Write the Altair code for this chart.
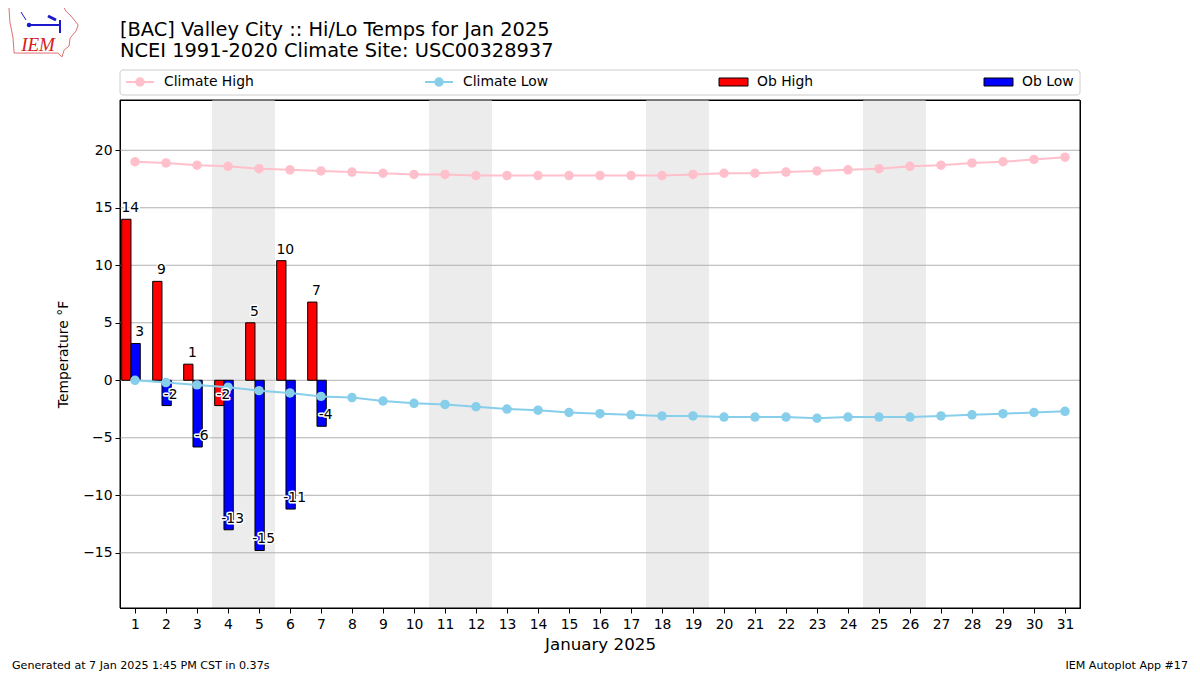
import altair as alt
import pandas as pd

# ---------------- data ----------------
days = list(range(1, 32))
climate_high = [19.0, 18.9, 18.7, 18.6, 18.4, 18.3, 18.2, 18.1, 18.0, 17.9,
                17.9, 17.8, 17.8, 17.8, 17.8, 17.8, 17.8, 17.8, 17.9, 18.0,
                18.0, 18.1, 18.2, 18.3, 18.4, 18.6, 18.7, 18.9, 19.0, 19.2, 19.4]
climate_low = [0.0, -0.2, -0.4, -0.6, -0.9, -1.1, -1.4, -1.5, -1.8, -2.0,
               -2.1, -2.3, -2.5, -2.6, -2.8, -2.9, -3.0, -3.1, -3.1, -3.2,
               -3.2, -3.2, -3.3, -3.2, -3.2, -3.2, -3.1, -3.0, -2.9, -2.8, -2.7]
ob_days = [1, 2, 3, 4, 5, 6, 7]
ob_high = [14.0, 8.6, 1.4, -2.2, 5.0, 10.4, 6.8]
ob_low = [3.2, -2.2, -5.8, -13.0, -14.8, -11.2, -4.0]
weekend_days = [4, 5, 11, 12, 18, 19, 25, 26]
y_ticks = [-15, -10, -5, 0, 5, 10, 15, 20]
series_names = ["Climate High", "Climate Low", "Ob High", "Ob Low"]
title_lines = ["[BAC] Valley City :: Hi/Lo Temps for Jan 2025",
               "NCEI 1991-2020 Climate Site: USC00328937"]
footer_left = "Generated at 7 Jan 2025 1:45 PM CST in 0.37s"
footer_right = "IEM Autoplot App #17"

clim_df = pd.DataFrame({"day": days, "high": climate_high, "low": climate_low})
ob_df = pd.DataFrame({"day": ob_days, "high": ob_high, "low": ob_low})
wk_df = pd.DataFrame({"day": weekend_days})
grid_df = pd.DataFrame({"y": y_ticks})
one = pd.DataFrame({"k": [0]})

FONT = "DejaVu Sans"
PINK = "#ffc0cb"
SKY = "#87ceeb"
W, H = 960, 508
FS = 13.9

xs = alt.Scale(domain=[0.516, 31.484], nice=False, zero=False)
ys = alt.Scale(domain=[-19.8, 24.37], nice=False, zero=False)
xaxis = alt.Axis(values=days, title="January 2025", grid=False, format="d",
                 labelFontSize=FS, titleFontSize=16.7, tickSize=5, labelPadding=4,
                 titlePadding=6, labelFlush=False, labelOverlap=False,
                 domainColor="black", tickColor="black", labelColor="black",
                 titleColor="black", titleFontWeight="normal",
                 labelFont=FONT, titleFont=FONT)
yaxis = alt.Axis(values=y_ticks, title="Temperature °F", grid=False,
                 labelFontSize=FS, titleFontSize=FS, tickSize=5, labelPadding=3,
                 titlePadding=12, domainColor="black", tickColor="black",
                 labelColor="black", titleColor="black", titleFontWeight="normal",
                 labelFont=FONT, titleFont=FONT)


def X(f):
    return alt.X(f, type="quantitative", scale=xs, axis=xaxis)


def Y(f):
    return alt.Y(f, type="quantitative", scale=ys, axis=yaxis)


weekend = alt.Chart(wk_df).transform_calculate(
    x0="datum.day - 0.5", x1="datum.day + 0.5"
).mark_rect(color="#ececec", stroke="#ececec", strokeWidth=1).encode(
    x=X("x0"), x2="x1:Q", y=alt.value(0.5), y2=alt.value(H - 0.5))

grid = alt.Chart(grid_df).mark_rule(color="#b0b0b0", strokeWidth=1).encode(y=Y("y"))

bars_high = alt.Chart(ob_df).transform_calculate(
    x0="datum.day - 0.43", x1="datum.day - 0.13"
).mark_rect(color="#ff0000", stroke="black", strokeWidth=1).encode(
    x=X("x0"), x2="x1:Q", y=Y("high"), y2=alt.datum(0))

bars_low = alt.Chart(ob_df).transform_calculate(
    x0="datum.day - 0.13", x1="datum.day + 0.17"
).mark_rect(color="#0000ff", stroke="black", strokeWidth=1).encode(
    x=X("x0"), x2="x1:Q", y=Y("low"), y2=alt.datum(0))

line_high = alt.Chart(clim_df).mark_line(
    color=PINK, strokeWidth=2,
    point=alt.OverlayMarkDef(color=PINK, size=90, filled=True, opacity=1)
).encode(x=X("day"), y=Y("high"))

line_low = alt.Chart(clim_df).mark_line(
    color=SKY, strokeWidth=2,
    point=alt.OverlayMarkDef(color=SKY, size=90, filled=True, opacity=1)
).encode(x=X("day"), y=Y("low"))


def labels(field, off):
    base = alt.Chart(ob_df).transform_calculate(
        xl=f"datum.day + ({off})", t=f"'' + round(datum.{field})")
    enc = dict(x=X("xl"), y=Y(field), text="t:N")
    halo = base.mark_text(font=FONT, fontSize=FS, baseline="bottom", dy=-4,
                          stroke="white", strokeWidth=3, strokeJoin="round",
                          color="white").encode(**enc)
    txt = base.mark_text(font=FONT, fontSize=FS, baseline="bottom", dy=-4,
                         color="black").encode(**enc)
    return halo + txt


frame = alt.Chart(one).mark_rect(filled=False, fillOpacity=0, stroke="black",
                                 strokeWidth=1).encode(
    x=alt.value(0), x2=alt.value(W), y=alt.value(0), y2=alt.value(H))

# ---------------- legend (drawn manually) ----------------
LY = -18
legend_box = alt.Chart(one).mark_rect(fill="white", stroke="#cccccc",
                                      strokeWidth=1, cornerRadius=3).encode(
    x=alt.value(0), x2=alt.value(W), y=alt.value(-30), y2=alt.value(-5))


def leg_line(x0, color, name):
    r = alt.Chart(one).mark_rule(color=color, strokeWidth=2).encode(
        x=alt.value(x0), x2=alt.value(x0 + 28), y=alt.value(LY))
    p = alt.Chart(one).mark_point(color=color, filled=True, opacity=1, size=90).encode(
        x=alt.value(x0 + 14), y=alt.value(LY))
    t = alt.Chart(one).mark_text(font=FONT, fontSize=FS, align="left",
                                 baseline="middle", color="black").encode(
        x=alt.value(x0 + 38), y=alt.value(LY), text=alt.value(name))
    return r + p + t


def leg_box(x0, color, name):
    b = alt.Chart(one).mark_rect(color=color, stroke="black", strokeWidth=1).encode(
        x=alt.value(x0), x2=alt.value(x0 + 29), y=alt.value(LY - 4), y2=alt.value(LY + 4))
    t = alt.Chart(one).mark_text(font=FONT, fontSize=FS, align="left",
                                 baseline="middle", color="black").encode(
        x=alt.value(x0 + 38), y=alt.value(LY), text=alt.value(name))
    return b + t


legend = (legend_box + leg_line(6, PINK, series_names[0]) + leg_line(305, SKY, series_names[1])
          + leg_box(599, "#ff0000", series_names[2]) + leg_box(864, "#0000ff", series_names[3]))

# ---------------- titles, footer, logo ----------------
t1 = alt.Chart(one).mark_text(font=FONT, fontSize=19.4, align="left", baseline="middle",
                              color="black").encode(
    x=alt.value(0), y=alt.value(-70), text=alt.value(title_lines[0]))
t2 = alt.Chart(one).mark_text(font=FONT, fontSize=19.4, align="left", baseline="middle",
                              color="black").encode(
    x=alt.value(0), y=alt.value(-49), text=alt.value(title_lines[1]))
f1 = alt.Chart(one).mark_text(font=FONT, fontSize=11.1, align="left", baseline="middle",
                              color="black").encode(
    x=alt.value(-108), y=alt.value(566), text=alt.value(footer_left))
f2 = alt.Chart(one).mark_text(font=FONT, fontSize=11.1, align="right", baseline="middle",
                              color="black").encode(
    x=alt.value(1068), y=alt.value(566), text=alt.value(footer_right))

iowa = ("M-0.99,-0.71 L0.56,-0.71 L0.64,-0.57 L0.81,-0.4 L0.99,-0.17 L0.93,0 "
        "L0.76,0.2 L0.73,0.43 L0.59,0.54 L0.53,0.74 L0.41,0.63 L-0.84,0.63 "
        "L-0.87,0.2 L-0.96,-0.26 Z")
logo_shape = alt.Chart(one).mark_point(shape=iowa, size=4900, stroke="#e07070",
                                       strokeWidth=1, filled=False, opacity=1).encode(
    x=alt.value(-76.5), y=alt.value(-69))
logo_text = alt.Chart(one).mark_text(font="Liberation Serif", fontSize=19, fontStyle="italic",
                                     align="center", baseline="middle", color="#d42020").encode(
    x=alt.value(-82), y=alt.value(-55), text=alt.value("IEM"))
BLUE = "#1a1acc"
logo_h = alt.Chart(one).mark_rule(color=BLUE, strokeWidth=2).encode(
    x=alt.value(-91), x2=alt.value(-60), y=alt.value(-75))
logo_v = alt.Chart(one).mark_rule(color=BLUE, strokeWidth=2).encode(
    x=alt.value(-60), y=alt.value(-80), y2=alt.value(-67))
logo_f = alt.Chart(one).mark_rule(color=BLUE, strokeWidth=3).encode(
    x=alt.value(-72), x2=alt.value(-64), y=alt.value(-84), y2=alt.value(-80))
logo_a = alt.Chart(one).mark_rule(color=BLUE, strokeWidth=1).encode(
    x=alt.value(-99), x2=alt.value(-94), y=alt.value(-88), y2=alt.value(-80))
logo_dot = alt.Chart(one).mark_point(color=BLUE, filled=True, opacity=1, size=20).encode(
    x=alt.value(-91), y=alt.value(-75))
logo = logo_shape + logo_h + logo_v + logo_f + logo_a + logo_dot + logo_text

chart = alt.layer(
    weekend, grid, bars_high, bars_low, line_high, line_low,
    labels("high", -0.15), labels("low", 0.15), frame,
    legend, t1, t2, f1, f2, logo
).properties(
    width=W, height=H,
    autosize=alt.AutoSizeParams(type="none"),
    padding={"left": 112, "top": 92, "right": 112, "bottom": 66},
).configure_view(stroke="black", strokeWidth=1)

chart.save("out.html", embed_options={"renderer": "svg", "actions": False})
